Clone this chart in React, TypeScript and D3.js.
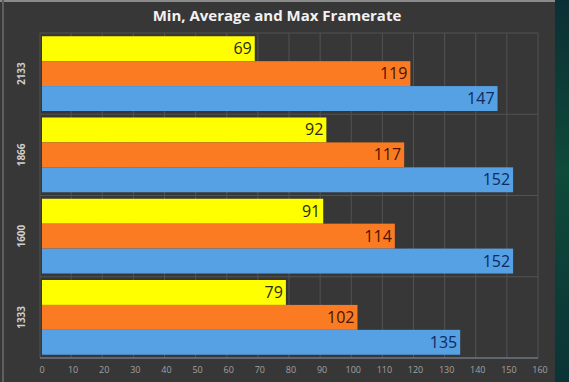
import React from "react";
import * as d3 from "d3";

const categories = ["2133", "1866", "1600", "1333"];
const seriesNames = ["Min", "Average", "Max"];
const minValues = [69, 92, 91, 79];
const avgValues = [119, 117, 114, 102];
const maxValues = [147, 152, 152, 135];
const xTicks = [0, 10, 20, 30, 40, 50, 60, 70, 80, 90, 100, 110, 120, 130, 140, 150, 160];

const colors = ["#ffff00", "#fb7b22", "#56a0e4"];
const labelColors = ["#2a2a10", "#4a1400", "#0e2a5c"];

export default function App() {
  const W = 569, H = 382;
  const left = 40, right = 538, top = 33, bottom = 358;
  const x = d3.scaleLinear().domain([0, 160]).range([left, right]);
  const y = d3.scaleBand().domain(categories).range([top, bottom]).paddingInner(0.08).paddingOuter(0.04);
  const bandAll = d3.scaleBand().domain(categories).range([top, bottom]);
  const inner = d3.scaleBand().domain(seriesNames).range([0, y.bandwidth()]);
  const series = [minValues, avgValues, maxValues];

  return (
    <svg width={W} height={H} style={{ position: "absolute", left: 0, top: 0, display: "block" }}>
      <defs>
        <linearGradient id="bgR" x1="0" y1="0" x2="0" y2="1">
          <stop offset="0" stopColor="#0b2f35" />
          <stop offset="0.45" stopColor="#0f4a3a" />
          <stop offset="1" stopColor="#0b3336" />
        </linearGradient>
      </defs>
      <rect x={0} y={0} width={W} height={H} fill="url(#bgR)" />
      <rect x={0} y={0} width={555} height={H} fill="#383738" />
      <rect x={0} y={0} width={555} height={2} fill="#8a8a8a" />
      <rect x={2} y={0} width={2} height={H} fill="#5e5e5e" />
      <text x={277} y={21} textAnchor="middle" fill="#f2f2f2" fontFamily="'Open Sans', sans-serif" fontWeight="bold" fontSize={15}>
        Min, Average and Max Framerate
      </text>
      {xTicks.map((t) => (
        <line key={"g" + t} x1={x(t)} x2={x(t)} y1={top} y2={bottom} stroke="#535353" strokeWidth={1} />
      ))}
      {categories.map((c) => (
        <line key={"h" + c} x1={left} x2={right} y1={bandAll(c)!} y2={bandAll(c)!} stroke="#535353" strokeWidth={1} />
      ))}
      {categories.map((c, ci) =>
        series.map((vals, si) => {
          const by = y(c)! + inner(seriesNames[si])!;
          const bh = inner.bandwidth();
          return (
            <g key={c + si}>
              <rect x={x(0) + 2} y={by} width={x(vals[ci]) - x(0) - 2} height={bh} fill={colors[si]} />
              <text x={x(vals[ci]) - 3} y={by + bh / 2 + 5.5} textAnchor="end" fill={labelColors[si]} fontFamily="'Open Sans', sans-serif" fontSize={16}>
                {vals[ci]}
              </text>
            </g>
          );
        })
      )}
      <line x1={left} x2={right} y1={bottom} y2={bottom} stroke="#8796a8" strokeWidth={1.2} />
      {xTicks.map((t) => (
        <text key={"t" + t} x={x(t) + 2} y={373} textAnchor="middle" fill="#a0a0a0" fontFamily="'Open Sans', sans-serif" fontSize={9}>
          {t}
        </text>
      ))}
      {categories.map((c) => (
        <text
          key={"c" + c}
          transform={`translate(${25},${y(c)! + y.bandwidth() / 2}) rotate(-90)`}
          textAnchor="middle"
          fill="#cfcfcf"
          fontFamily="'Open Sans', sans-serif"
          fontWeight="bold"
          fontSize={10}
        >
          {c}
        </text>
      ))}
    </svg>
  );
}
